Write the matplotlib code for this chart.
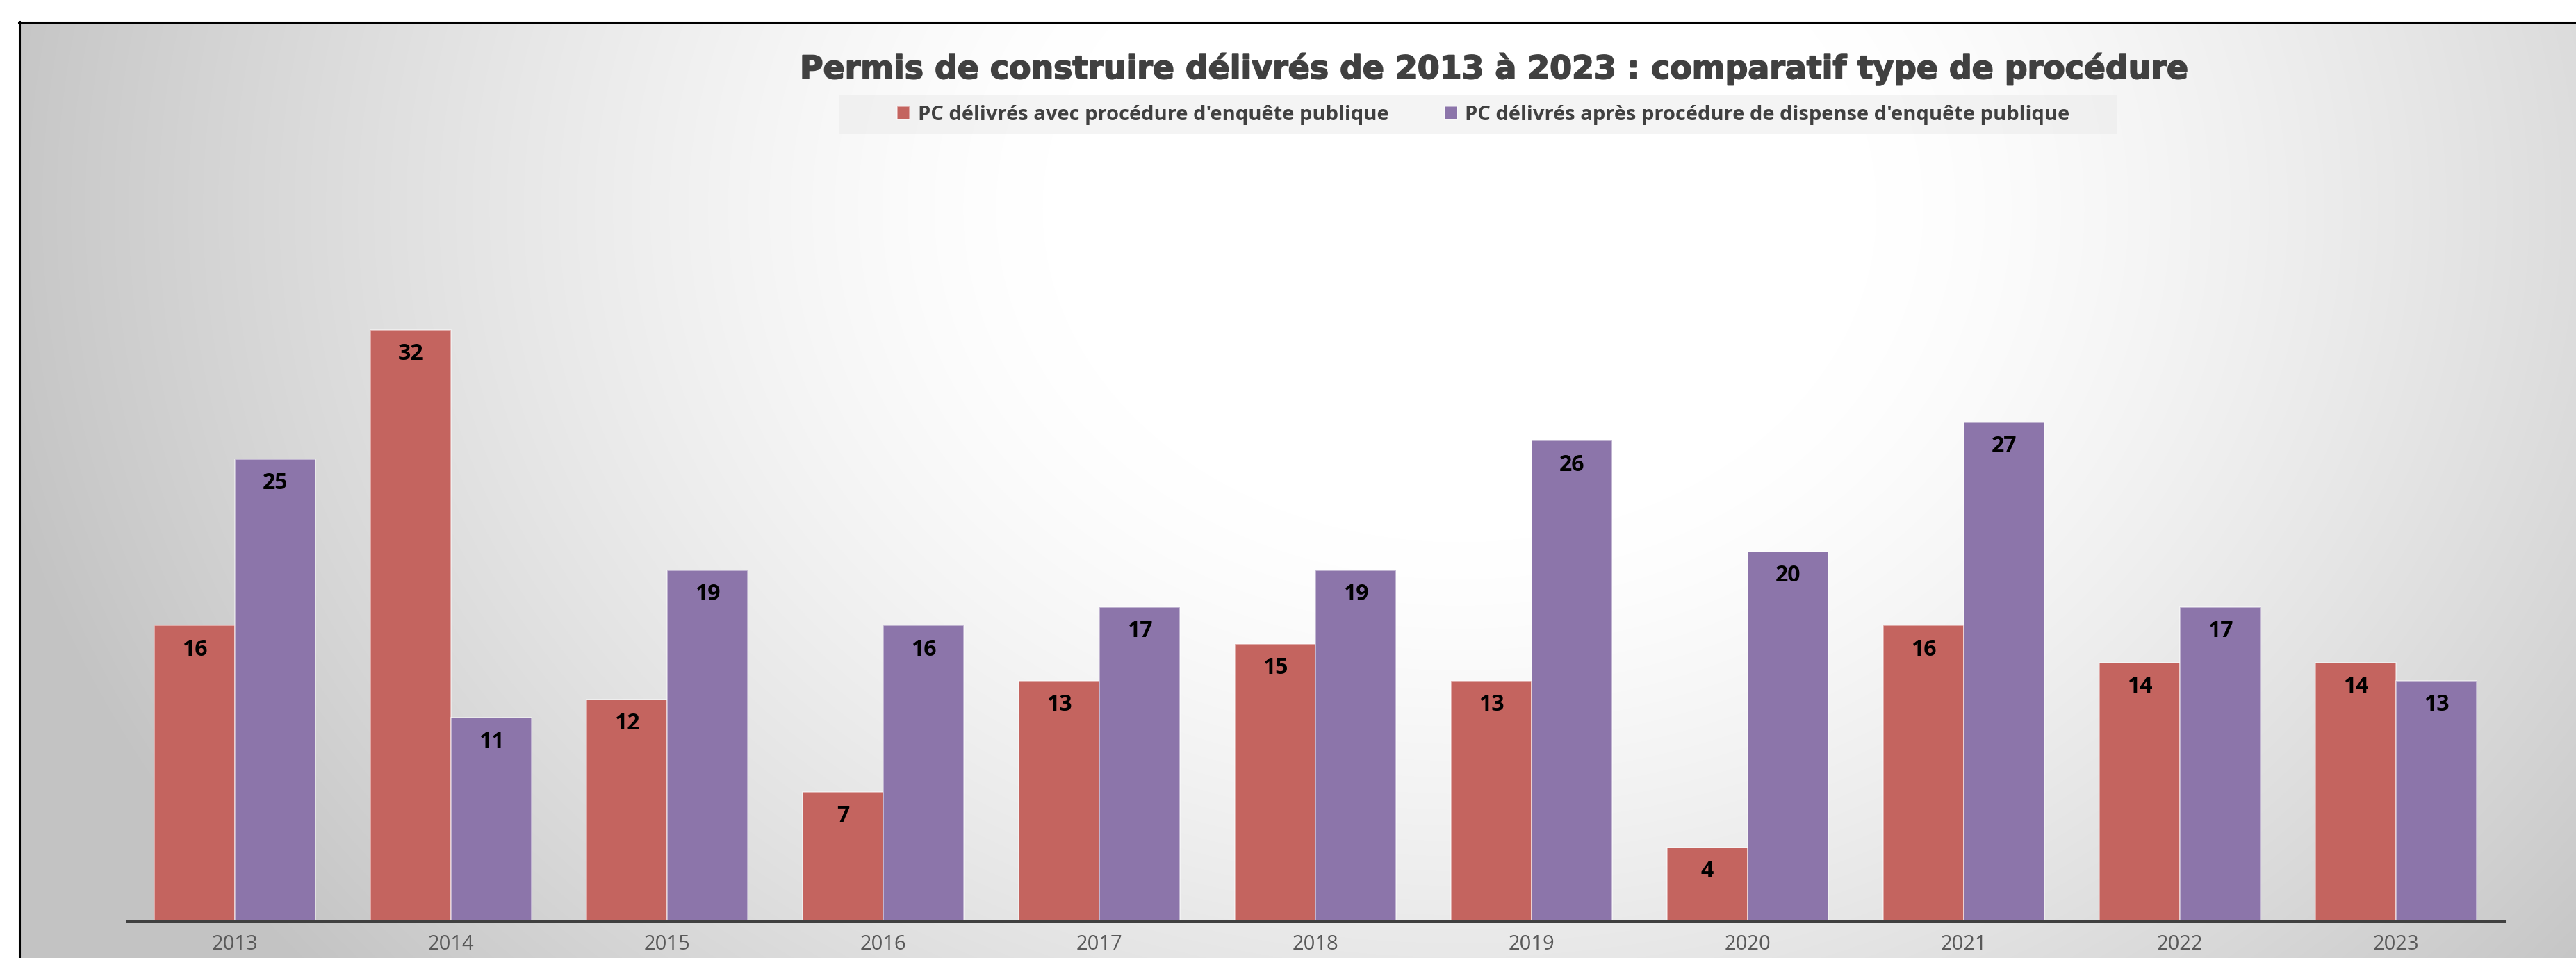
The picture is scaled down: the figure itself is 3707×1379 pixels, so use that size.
import numpy as np
import matplotlib
matplotlib.use("Agg")
import matplotlib.pyplot as plt
from matplotlib.patches import Rectangle
from matplotlib.lines import Line2D
import matplotlib.patheffects as pe

# ---- data -------------------------------------------------------------
years = ["2013", "2014", "2015", "2016", "2017", "2018",
         "2019", "2020", "2021", "2022", "2023"]
avec_enquete = [16, 32, 12, 7, 13, 15, 13, 4, 16, 14, 14]
dispense_enquete = [25, 11, 19, 16, 17, 19, 26, 20, 27, 17, 13]
series_labels = [
    "PC délivrés avec procédure d'enquête publique",
    "PC délivrés après procédure de dispense d'enquête publique",
]
title = "Permis de construire délivrés de 2013 à 2023 : comparatif type de procédure"

# ---- figure -----------------------------------------------------------
W, H = 3707, 1379
DPI = 100
fig = plt.figure(figsize=(W / DPI, H / DPI), dpi=DPI)
fig.patch.set_facecolor("white")

# soft radial background: white near the top centre, grey towards the edges
xx = np.arange(W, dtype=float)[None, :]
yy = np.arange(H, dtype=float)[:, None]
cx, cy = 2100.0, 300.0
t = np.sqrt(((xx - cx) / 2000.0) ** 2 + ((yy - cy) / 1600.0) ** 2)
s = np.clip(1.38 * np.clip(t - 0.3, 0, None) ** 1.3, 0, 1)
g = 255.0 - 60.0 * s
g[:, :27] = 255.0
g[:31, :] = 255.0
img = np.dstack([g, g, g]).astype(np.uint8)
fig.figimage(img, xo=0, yo=0, origin="upper", zorder=-10)

# chart frame (top and left edges)
fig.add_artist(Line2D([27 / W, 1.0], [1 - 32 / H, 1 - 32 / H],
                      transform=fig.transFigure, color="black", lw=2.2))
fig.add_artist(Line2D([28 / W, 28 / W], [0.0, 1 - 31 / H],
                      transform=fig.transFigure, color="black", lw=2.2))

# ---- bars -------------------------------------------------------------
ax = fig.add_axes([182.5 / W, 53 / H, 3421 / W, 1064 / H])
ax.patch.set_alpha(0)

red = "#C4645F"
purple = "#8C75AA"
x = np.arange(len(years))
bw = 0.373
b1 = ax.bar(x - bw / 2, avec_enquete, bw, color=red,
            edgecolor=(1, 1, 1, 0.55), linewidth=1.2, label=series_labels[0])
b2 = ax.bar(x + bw / 2, dispense_enquete, bw, color=purple,
            edgecolor=(1, 1, 1, 0.55), linewidth=1.2, label=series_labels[1])

ax.set_xlim(-0.5, len(years) - 0.5)
ax.set_ylim(0, 40)
for side in ("left", "right", "top"):
    ax.spines[side].set_visible(False)
ax.spines["bottom"].set_color("#404040")
ax.spines["bottom"].set_linewidth(2.2)
ax.set_yticks([])
ax.set_xticks(x)
ax.set_xticklabels(years, fontfamily="Open Sans", fontsize=21, color="#595959")
ax.tick_params(axis="x", length=0, pad=14)

for bars, vals in ((b1, avec_enquete), (b2, dispense_enquete)):
    for rect, v in zip(bars, vals):
        ax.annotate(str(v), (rect.get_x() + rect.get_width() / 2, v),
                    xytext=(0, -25), textcoords="offset points",
                    ha="center", va="center", fontsize=23,
                    fontweight="bold", fontfamily="Open Sans", color="black")

# ---- title & legend ---------------------------------------------------
fig.text(1151 / W, 1 - 113 / H, title, ha="left", va="baseline",
         fontsize=33, fontweight="bold", fontfamily="DejaVu Sans",
         color="#404040",
         path_effects=[pe.withStroke(linewidth=1.3, foreground="#404040")])

fig.add_artist(Rectangle((1208 / W, 1 - 193 / H), (3047 - 1208) / W, 56 / H,
                         transform=fig.transFigure, facecolor="#e8e8e8",
                         alpha=0.45, edgecolor="none", zorder=1))

fig.legend(handles=[b1, b2], labels=series_labels, loc="center left",
           bbox_to_anchor=(1291 / W, 1 - 165.5 / H), ncol=2, frameon=False,
           prop={"family": "Open Sans", "weight": "bold", "size": 21},
           labelcolor="#404040", handlelength=0.62, handleheight=0.62,
           handletextpad=0.4, columnspacing=2.75, borderpad=0,
           borderaxespad=0)

fig.savefig("out.png", dpi=DPI)
